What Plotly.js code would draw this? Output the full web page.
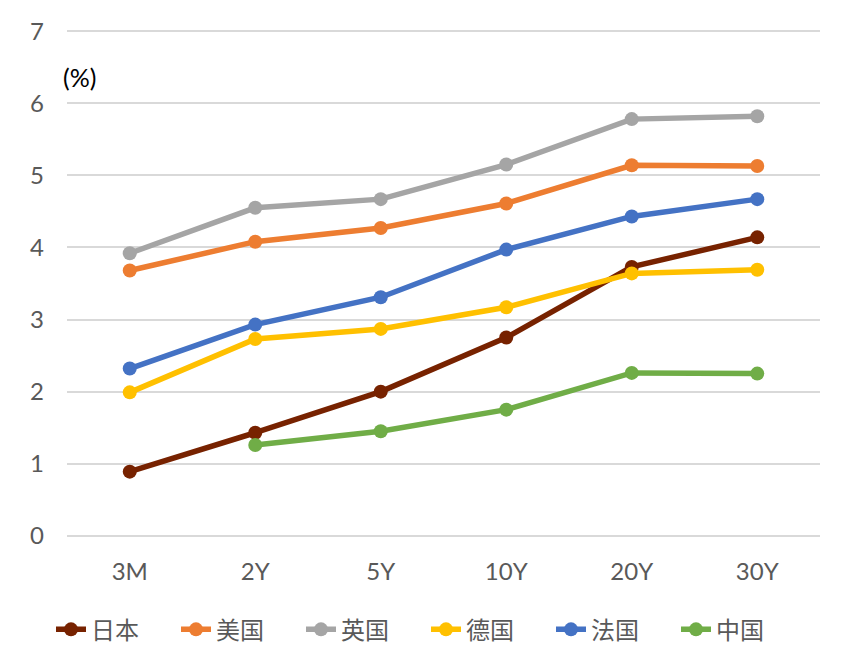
<!DOCTYPE html>
<html>
<head>
<meta charset="utf-8">
<script src="https://cdn.plot.ly/plotly-3.0.1.min.js"></script>
<style>
  html, body { margin: 0; padding: 0; background: #fff; }
  #chart { width: 852px; height: 665px; }
</style>
</head>
<body>
<div id="chart"></div>
<script>
// Government bond yield curves by tenor (%)
const tenors = ["3M", "2Y", "5Y", "10Y", "20Y", "30Y"];
const japan   = [0.89, 1.43, 2.00, 2.75, 3.73, 4.14];
const usa     = [3.68, 4.08, 4.27, 4.61, 5.14, 5.13];
const uk      = [3.92, 4.55, 4.67, 5.15, 5.78, 5.82];
const germany = [1.99, 2.73, 2.87, 3.17, 3.64, 3.69];
const france  = [2.32, 2.93, 3.31, 3.97, 4.43, 4.67];
const china   = [null, 1.26, 1.45, 1.75, 2.26, 2.25];

const seriesNames  = ["日本", "美国", "英国", "德国", "法国", "中国"];
const seriesValues = [japan, usa, uk, germany, france, china];
const seriesColors = ["#772200", "#ED7D31", "#A5A5A5", "#FFC000", "#4472C4", "#70AD47"];

const traces = seriesNames.map((name, i) => ({
  type: "scatter",
  mode: "lines+markers",
  name: name,
  x: tenors,
  y: seriesValues[i],
  connectgaps: false,
  line: { color: seriesColors[i], width: 5.5 },
  marker: { color: seriesColors[i], size: 14 },
  hoverinfo: "x+y+name"
}));

const font = 'Lato, "Noto Sans", sans-serif';
const cjkFont = '"Noto Sans CJK SC", sans-serif';

// small padding on the value range so the 0 and 7 gridlines stay visible
const yPad = 0.03;

const layout = {
  width: 852,
  height: 665,
  paper_bgcolor: "#ffffff",
  plot_bgcolor: "#ffffff",
  margin: { l: 67, r: 32, t: 29, b: 127, autoexpand: false },
  font: { family: font, color: "#595959", size: 24 },
  showlegend: true,
  legend: {
    orientation: "h",
    x: 0.5, xanchor: "center", xref: "container",
    y: 0.053, yanchor: "middle", yref: "container",
    font: { family: cjkFont, size: 24, color: "#595959" },
    entrywidth: 80,
    entrywidthmode: "pixels",
    tracegroupgap: 0
  },
  xaxis: {
    type: "category",
    range: [-0.5, 5.5],
    showgrid: false,
    zeroline: false,
    showline: false,
    ticks: "",
    ticklabelstandoff: 17,
    tickfont: { family: font, size: 24, color: "#595959" }
  },
  yaxis: {
    range: [0 - yPad, 7 + yPad],
    tickvals: [0, 1, 2, 3, 4, 5, 6, 7],
    showgrid: true,
    gridcolor: "#D9D9D9",
    gridwidth: 2,
    zeroline: false,
    showline: false,
    ticks: "",
    ticklabelstandoff: 22,
    tickfont: { family: font, size: 24, color: "#595959" }
  },
  annotations: [{
    text: "(%)",
    xref: "paper", yref: "paper",
    x: -0.008, y: 0.905,
    xanchor: "left", yanchor: "middle",
    showarrow: false,
    font: { family: font, size: 25, color: "#000000" }
  }]
};

Plotly.newPlot("chart", traces, layout, { displayModeBar: false, staticPlot: true });
</script>
</body>
</html>
